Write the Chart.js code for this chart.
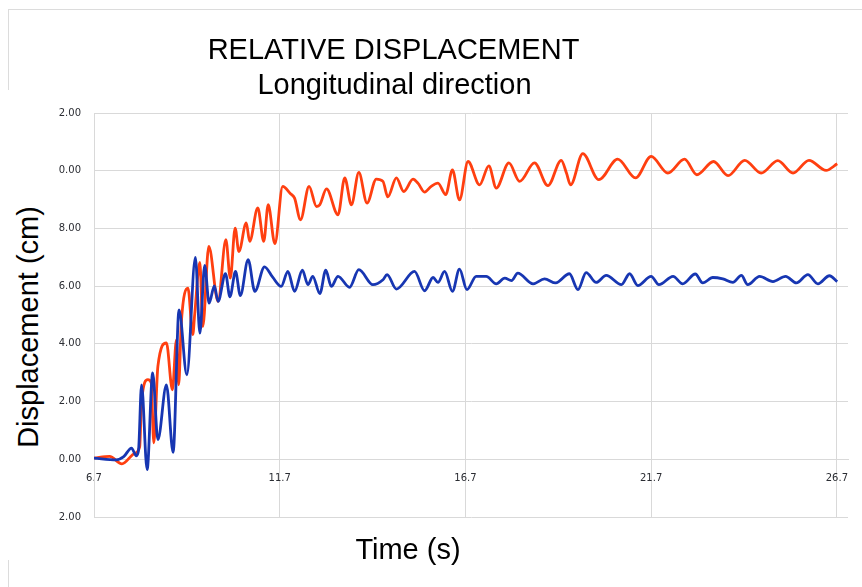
<!DOCTYPE html>
<html>
<head>
<meta charset="utf-8">
<title>Relative displacement</title>
<script src="https://cdn.jsdelivr.net/npm/chart.js@4.4.1/dist/chart.umd.min.js"></script>
<style>
    html, body { margin: 0; padding: 0; background: #fff; }
    body {
        position: relative;
        width: 862px;
        height: 587px;
        overflow: hidden;
        font-family: 'Liberation Sans', Arial, sans-serif;
    }
    /* faint slide frame behind the chart */
    #frame {
        position: absolute; left: 8px; top: 9px; width: 900px; height: 700px;
        border-top: 1px solid #dcdcdc; border-left: 1px solid #dcdcdc;
    }
    #chartWrap { position: absolute; left: 0; top: 0; width: 862px; height: 587px; }
    .txt {
        position: absolute; white-space: nowrap;
        font-size: 29px; line-height: 29px; color: #000;
    }
    /* white text box holding the y title, it covers the left part of the tick labels */
    #yBox { position: absolute; left: 0; top: 90px; width: 59px; height: 470px; background: #fff; }
</style>
</head>
<body>
<div id="frame"></div>
<div id="chartWrap"><canvas id="dispChart" width="862" height="587"></canvas></div>
<div class="txt" id="title1" style="left:393.5px; top:34.5px; transform:translateX(-50%);">RELATIVE DISPLACEMENT</div>
<div class="txt" id="title2" style="left:394.5px; top:69.5px; transform:translateX(-50%);">Longitudinal direction</div>
<div class="txt" id="xTitle" style="left:408px; top:534.5px; transform:translateX(-50%);">Time (s)</div>
<div id="yBox"></div>
<div class="txt" id="yTitle" style="left:28px; top:326.5px; transform:translate(-50%, -50%) rotate(-90deg);">Displacement (cm)</div>

<script>
// Time (s) and displacement (cm) at each peak / trough
const timeRed = [6.70, 7.12, 7.45, 7.80, 7.93, 7.98, 8.15, 8.24, 8.31, 8.42, 8.65, 8.81, 8.92, 8.98, 9.05,
    9.23, 9.36, 9.41, 9.55, 9.63, 9.79, 10.04, 10.25, 10.37, 10.50, 10.60, 10.80, 10.89, 11.11, 11.27,
    11.39, 11.57, 11.78, 11.99, 12.10, 12.26, 12.49, 12.69, 12.78, 12.96, 13.27, 13.45, 13.63, 13.83, 14.05,
    14.30, 14.48, 14.61, 14.84, 15.04, 15.29, 15.42, 15.60, 15.78, 15.96, 16.17, 16.35, 16.54, 16.77, 17.08,
    17.33, 17.53, 17.87, 18.16, 18.56, 18.92, 19.28, 19.42, 19.53, 19.86, 20.29, 20.80, 21.28, 21.70, 22.15,
    22.60, 22.93, 23.38, 23.77, 24.22, 24.66, 25.11, 25.52, 25.95, 26.41, 26.71];
const dispRed = [0.04, 0.10, -0.16, 0.21, 0.44, 2.00, 2.76, 2.65, 0.57, 3.22, 4.03, 2.41, 4.14, 2.58, 4.72,
    5.93, 4.32, 5.01, 6.82, 4.60, 7.38, 5.47, 7.61, 6.28, 8.01, 7.20, 8.19, 7.55, 8.71, 7.55,
    8.82, 7.47, 9.46, 9.20, 9.05, 8.30, 9.46, 8.76, 8.82, 9.37, 8.47, 9.75, 8.82, 9.94, 8.88,
    9.71, 9.63, 9.09, 9.75, 9.28, 9.71, 9.57, 9.26, 9.46, 9.57, 9.17, 10.03, 8.99, 10.32, 9.51,
    10.17, 9.40, 10.27, 9.63, 10.27, 9.48, 10.36, 9.92, 9.51, 10.59, 9.69, 10.40, 9.75, 10.50, 9.92,
    10.40, 9.86, 10.32, 9.83, 10.36, 9.92, 10.35, 9.92, 10.36, 10.01, 10.24];

const timeBlue = [6.70, 7.30, 7.50, 7.71, 7.84, 7.90, 7.98, 8.13, 8.28, 8.42, 8.65, 8.83, 8.99, 9.20, 9.43,
    9.55, 9.68, 9.80, 9.94, 10.04, 10.24, 10.36, 10.51, 10.64, 10.85, 11.03, 11.29, 11.51, 11.74, 11.92,
    12.10, 12.31, 12.46, 12.59, 12.78, 12.94, 13.09, 13.27, 13.58, 13.83, 14.21, 14.48, 14.59, 14.84, 15.33,
    15.60, 15.83, 15.96, 16.14, 16.35, 16.54, 16.74, 16.99, 17.26, 17.53, 17.76, 17.94, 18.11, 18.52, 18.83,
    19.13, 19.50, 19.73, 19.95, 20.22, 20.49, 20.90, 21.12, 21.34, 21.70, 21.91, 22.29, 22.55, 22.89, 23.09,
    23.36, 23.63, 23.90, 24.13, 24.30, 24.62, 24.98, 25.32, 25.61, 25.92, 26.19, 26.50, 26.71];
const dispBlue = [0.04, -0.02, 0.09, 0.39, 0.12, 0.33, 2.58, -0.36, 2.99, 0.68, 2.58, 0.24, 5.18, 2.93, 7.00,
    4.37, 6.72, 5.41, 6.01, 5.47, 6.43, 5.63, 6.51, 5.67, 6.92, 5.82, 6.67, 6.31, 5.99, 6.51,
    5.82, 6.55, 6.05, 6.34, 5.74, 6.55, 5.99, 6.34, 5.96, 6.57, 6.05, 6.22, 6.40, 5.90, 6.51,
    5.84, 6.30, 6.13, 6.51, 5.82, 6.59, 5.88, 6.34, 6.34, 6.08, 6.28, 6.19, 6.45, 6.08, 6.25,
    6.11, 6.43, 5.88, 6.47, 6.13, 6.37, 6.05, 6.43, 6.02, 6.34, 6.05, 6.34, 6.08, 6.42, 6.11,
    6.30, 6.25, 6.13, 6.37, 6.05, 6.34, 6.16, 6.34, 6.11, 6.40, 6.08, 6.36, 6.16];

// Axis ticks
const xTicks = [6.7, 11.7, 16.7, 21.7, 26.7];
const xMin = 6.7, xMax = 27.0;
const yMin = -2, yMax = 12, yStep = 2;

const toPoints = (xs, ys) => xs.map((x, i) => ({ x: x, y: ys[i] }));

const gridGrey = '#d9d9d9';
const tickFont = { family: "'DejaVu Sans', sans-serif", size: 10 };

new Chart(document.getElementById('dispChart'), {
    type: 'line',
    data: {
        datasets: [{
            label: 'Blue',
            data: toPoints(timeBlue, dispBlue),
            borderColor: '#1736b2',
            borderWidth: 2.8,
            pointRadius: 0,
            cubicInterpolationMode: 'monotone',
            fill: false
        }, {
            label: 'Red',
            data: toPoints(timeRed, dispRed),
            borderColor: '#ff3f10',
            borderWidth: 2.8,
            pointRadius: 0,
            cubicInterpolationMode: 'monotone',
            fill: false
        }]
    },
    options: {
        responsive: false,
        animation: false,
        devicePixelRatio: 1,
        layout: { padding: { left: 0, top: 113, right: 14, bottom: 70 } },
        plugins: {
            legend: { display: false },
            tooltip: { enabled: false }
        },
        scales: {
            x: {
                type: 'linear',
                position: { y: 0 }, // axis crosses at zero like the original
                min: xMin,
                max: xMax,
                afterBuildTicks: (scale) => { scale.ticks = xTicks.map(v => ({ value: v })); },
                grid: { color: gridGrey, drawTicks: false },
                border: { color: gridGrey },
                ticks: {
                    padding: 13,
                    color: '#2b2d33',
                    font: tickFont,
                    maxRotation: 0,
                    autoSkip: false,
                    callback: (v) => Number(v).toFixed(1)
                }
            },
            y: {
                type: 'linear',
                min: yMin,
                max: yMax,
                afterFit: (scale) => { scale.width = 94; },
                grid: { color: gridGrey, drawTicks: false },
                border: { color: gridGrey },
                ticks: {
                    stepSize: yStep,
                    padding: 13,
                    color: '#2b2d33',
                    font: tickFont,
                    callback: (v) => Number(v).toFixed(2)
                }
            }
        }
    }
});
</script>
</body>
</html>
